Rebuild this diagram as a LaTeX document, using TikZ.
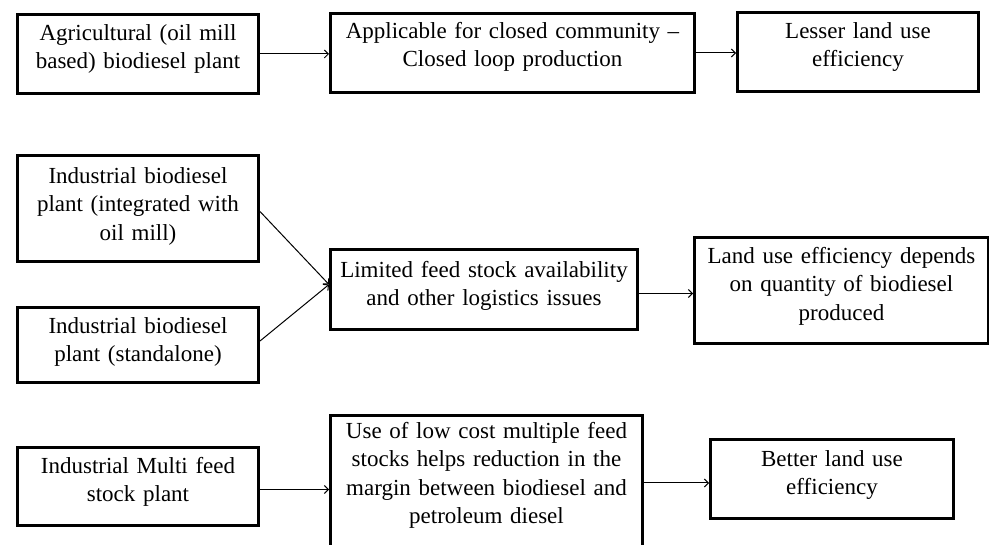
\documentclass[tikz,border=0pt]{standalone}
\usepackage{fontspec}
\setmainfont{Liberation Serif}
\usetikzlibrary{arrows.meta}
\tikzset{
  box/.style={draw, line width=3pt, inner sep=0pt, align=center, anchor=north west,
    font=\fontsize{23}{28.5}\selectfont},
  arr/.style={line width=1pt, -{Straight Barb[length=4pt,width=8pt]}}
}
\begin{document}
\begin{tikzpicture}[x=1pt,y=-1pt]
\useasboundingbox (0,0) rectangle (989,545);
% row 1
\node[box, minimum width=241pt, text width=233pt, text height=26pt, text depth=53pt] (A1) at (16,13)
  {Agricultural (oil mill\\ based) biodiesel plant};
\node[box, minimum width=364pt, text width=356pt, text height=25pt, text depth=54pt] (A2) at (329,12)
  {Applicable for closed community --\\ Closed loop production};
\node[box, minimum width=241pt, text width=233pt, text height=26pt, text depth=53pt] (A3) at (736,11)
  {Lesser land use\\ efficiency};
% row 2
\node[box, minimum width=241pt, text width=233pt, text height=28pt, text depth=78pt] (B1) at (16,154)
  {Industrial biodiesel\\ plant (integrated with\\ oil mill)};
\node[box, minimum width=241pt, text width=233pt, text height=26pt, text depth=49pt] (B2) at (16,306)
  {Industrial biodiesel\\ plant (standalone)};
\node[box, minimum width=307pt, text width=299pt, text height=28pt, text depth=52pt] (B3) at (329,248)
  {Limited feed stock availability\\ and other logistics issues};
\node[box, minimum width=294pt, text width=286pt, text height=26pt, text depth=80pt] (B4) at (693,236)
  {Land use efficiency depends\\ on quantity of biodiesel\\ produced};
% row 3
\node[box, minimum width=241pt, text width=233pt, text height=26pt, text depth=52pt] (C1) at (16,446)
  {Industrial Multi feed\\ stock plant};
\node[box, minimum width=312pt, text width=304pt, text height=23pt, text depth=127pt] (C2) at (329,414)
  {Use of low cost multiple feed\\ stocks helps reduction in the\\ margin between biodiesel and\\ petroleum diesel};
\node[box, minimum width=243pt, text width=235pt, text height=27pt, text depth=52pt] (C3) at (709,438)
  {Better land use\\ efficiency};
% connectors
\draw[arr] (A1.east) -- (A1.east -| A2.west);
\draw[arr] (A2.east) -- (A2.east -| A3.west);
\draw[arr] ([yshift=-3pt]B1.east) -- ([yshift=5pt]B3.west);
\draw[arr] ([yshift=4pt]B2.east) -- ([yshift=5pt]B3.west);
\draw[arr] ([yshift=-4pt]B3.east) -- ([yshift=-4pt]B3.east -| B4.west);
\draw[arr] ([yshift=-3pt]C1.east) -- ([yshift=-3pt]C1.east -| C2.west);
\draw[arr] ([yshift=-4pt]C3.west -| C2.east) -- ([yshift=-4pt]C3.west);
\end{tikzpicture}
\end{document}
